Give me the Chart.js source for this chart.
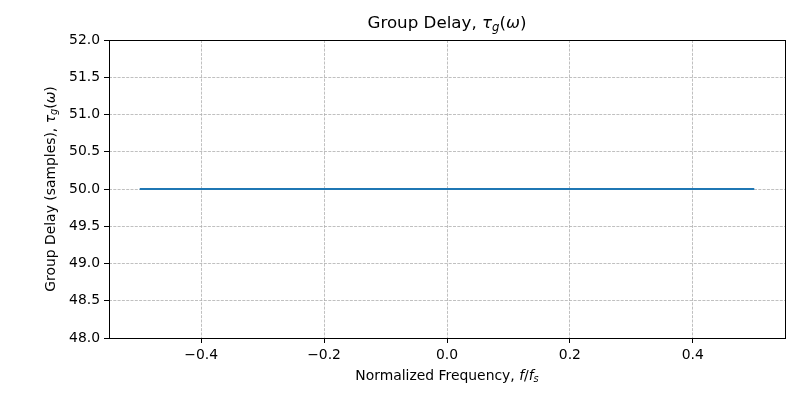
<!DOCTYPE html>
<html>
<head>
<meta charset="utf-8">
<script src="https://cdn.jsdelivr.net/npm/chart.js@4/dist/chart.umd.min.js"></script>
<style>
    html, body { margin: 0; padding: 0; background: #fff; }
    #wrap { width: 800px; height: 400px; position: relative; }
</style>
</head>
<body>
<div id="wrap"><canvas id="chart"></canvas></div>
<script>
// --- Data ---
const freqs = [-0.5, -0.4, -0.3, -0.2, -0.1, 0.0, 0.1, 0.2, 0.3, 0.4, 0.5];
const delays = [50, 50, 50, 50, 50, 50, 50, 50, 50, 50, 50];
const xTicks = [-0.4, -0.2, 0.0, 0.2, 0.4];
const yTicks = [48.0, 48.5, 49.0, 49.5, 50.0, 50.5, 51.0, 51.5, 52.0];
const xRange = [-0.55, 0.55];
const yRange = [48, 52];

const FONT = '"DejaVu Sans", sans-serif';

// draw a run of text pieces; each piece may be italic and/or subscript
const drawRich = (ctx, pieces, size, cx, cy) => {
    const fontFor = p => `${p.it ? 'italic ' : ''}${p.sub ? size * 0.7 : size}px ${FONT}`;
    let total = 0;
    pieces.forEach(p => { ctx.font = fontFor(p); total += ctx.measureText(p.t).width; });
    let x = cx - total / 2;
    ctx.textAlign = 'left';
    ctx.textBaseline = 'middle';
    pieces.forEach(p => {
        ctx.font = fontFor(p);
        ctx.fillText(p.t, x, p.sub ? cy + size * 0.25 : cy);
        x += ctx.measureText(p.t).width;
    });
};

const decorations = {
    id: 'decorations',
    afterDraw(chart) {
        const { ctx, chartArea: a } = chart;
        ctx.save();
        // frame on all four sides
        ctx.strokeStyle = '#000';
        ctx.lineWidth = 1;
        ctx.strokeRect(Math.round(a.left) + 0.5, Math.round(a.top) + 0.5,
            Math.round(a.right - a.left), Math.round(a.bottom - a.top));
        ctx.fillStyle = '#000';
        const midX = (a.left + a.right) / 2;
        // title
        drawRich(ctx, [
            { t: 'Group Delay, ' }, { t: 'τ', it: true }, { t: 'g', it: true, sub: true },
            { t: '(' }, { t: 'ω', it: true }, { t: ')' }
        ], 16.7, midX, 24);
        // x label
        drawRich(ctx, [
            { t: 'Normalized Frequency, ' }, { t: 'f', it: true }, { t: '/' },
            { t: 'f', it: true }, { t: 's', it: true, sub: true }
        ], 13.9, midX, 376);
        // y label, rotated
        ctx.translate(51, (a.top + a.bottom) / 2);
        ctx.rotate(-Math.PI / 2);
        drawRich(ctx, [
            { t: 'Group Delay (samples), ' }, { t: 'τ', it: true }, { t: 'g', it: true, sub: true },
            { t: '(' }, { t: 'ω', it: true }, { t: ')' }
        ], 13.9, 0, 0);
        ctx.restore();
    }
};

const fmtTick = v => (v < 0 ? '\u2212' : '') + Math.abs(v).toFixed(1);

new Chart(document.getElementById('chart'), {
    type: 'line',
    data: {
        datasets: [{
            data: freqs.map((f, i) => ({ x: f, y: delays[i] })),
            borderColor: '#1f77b4',
            borderWidth: 2,
            pointRadius: 0,
            fill: false,
            tension: 0
        }]
    },
    options: {
        responsive: true,
        maintainAspectRatio: false,
        animation: false,
        layout: { padding: { left: 0, right: 15, top: 40, bottom: 0 } },
        plugins: {
            legend: { display: false },
            tooltip: { enabled: false },
            title: { display: false }
        },
        scales: {
            x: {
                type: 'linear',
                min: xRange[0],
                max: xRange[1],
                afterBuildTicks: axis => { axis.ticks = xTicks.map(v => ({ value: v })); },
                afterFit: axis => { axis.height = 62; },
                ticks: {
                    color: '#000',
                    font: { family: FONT, size: 13.9 },
                    padding: 4,
                    maxRotation: 0,
                    callback: v => fmtTick(v)
                },
                grid: {
                    color: '#b0b0b0',
                    lineWidth: 0.8,
                    tickColor: '#000',
                    tickLength: 5,
                    tickWidth: 1
                },
                border: { display: false, dash: [3, 1.3] }
            },
            y: {
                min: yRange[0],
                max: yRange[1],
                afterBuildTicks: axis => { axis.ticks = yTicks.map(v => ({ value: v })); },
                afterFit: axis => { axis.width = 109; },
                ticks: {
                    color: '#000',
                    font: { family: FONT, size: 13.9 },
                    padding: 4,
                    callback: v => fmtTick(v)
                },
                grid: {
                    color: '#b0b0b0',
                    lineWidth: 0.8,
                    tickColor: '#000',
                    tickLength: 5,
                    tickWidth: 1
                },
                border: { display: false, dash: [3, 1.3] }
            }
        }
    },
    plugins: [decorations]
});
</script>
</body>
</html>
